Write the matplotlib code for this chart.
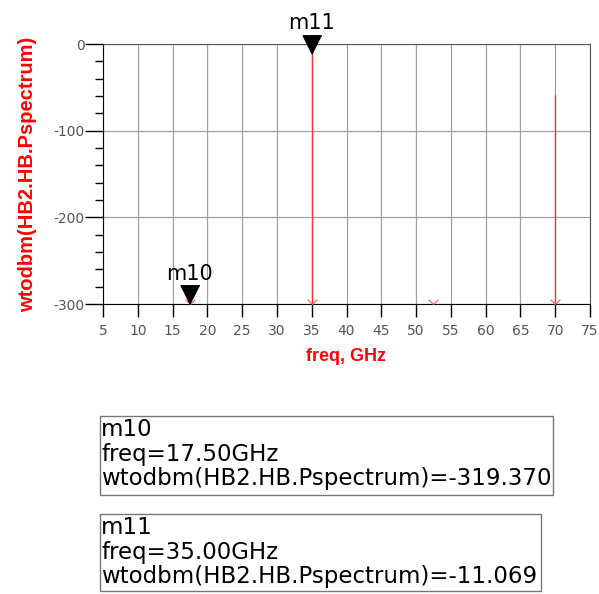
import matplotlib.pyplot as plt
import numpy as np
from matplotlib.patches import Rectangle

plt.rcParams['font.family'] = ['Liberation Sans', 'DejaVu Sans']
plt.rcParams['axes.unicode_minus'] = False

# harmonic spectrum, GHz / dBm
freq_ghz = [17.5, 35.0, 52.5, 70.0]
power_dbm = [-319.37, -11.069, -325.0, -59.0]

# markers
marker_names = ["m10", "m11"]
marker_freq = [17.5, 35.0]
marker_power = [-319.370, -11.069]

x_ticks = list(range(5, 80, 5))
y_ticks = [0, -100, -200, -300]
x_lim = (5, 75)
y_lim = (-300, 0)

fig = plt.figure(figsize=(5.99, 5.94), dpi=100)
W, H = 599, 594


def fig_box(left, top, right, bottom):
    # pixel box -> figure fraction [l, b, w, h]
    return [left / W, 1 - bottom / H, (right - left) / W, (bottom - top) / H]


ax = fig.add_axes(fig_box(103, 44, 590, 304))
ax.set_xlim(*x_lim)
ax.set_ylim(*y_lim)

ax.set_xticks(x_ticks)
ax.set_yticks(y_ticks)
ax.set_yticks(np.arange(-300, 1, 20), minor=True)
ax.tick_params(axis='x', which='major', direction='out', length=9.5, width=1,
               labelsize=10, labelcolor='#555555', color='black', pad=5)
ax.tick_params(axis='y', which='major', direction='out', length=13, width=1,
               labelsize=10, labelcolor='#555555', color='black', pad=0)
ax.tick_params(axis='y', which='minor', direction='out', length=6, width=1, color='black')
for lab in ax.get_xticklabels() + ax.get_yticklabels():
    lab.set_family('DejaVu Sans')
ax.grid(True, which='major', color='#a0a0a0', linewidth=0.9)
ax.set_axisbelow(True)
for side in ['left', 'bottom']:
    ax.spines[side].set_color('black')
for side in ['top', 'right']:
    ax.spines[side].set_color('#555555')

# spectral lines
ax.vlines(freq_ghz, y_lim[0], power_dbm, colors='#ff3333', linewidth=1.0, zorder=3)
chevron = [(-1, 1), (0, 0), (1, 1)]
ax.plot(freq_ghz, [y_lim[0]] * len(freq_ghz), ls='none', marker=chevron, markersize=7,
        markerfacecolor='none', markeredgecolor='#ff5555', markeredgewidth=0.8,
        clip_on=False, zorder=4)

# marker triangles (tip at data point, clamped to the plot range)
tri = [(0, 0), (-0.5, 1), (0.5, 1)]
for name, f, p in zip(marker_names, marker_freq, marker_power):
    py = max(p, y_lim[0])
    ax.plot([f], [py], marker=tri, markersize=27, color='black', clip_on=False, zorder=5)
    ax.annotate(name, (f, py), xytext=(0, 14.5), textcoords='offset points',
                ha='center', va='bottom', fontsize=15, family='DejaVu Sans',
                annotation_clip=False)

ax.set_xlabel("freq, GHz", color='red', fontweight='bold', fontsize=13, labelpad=7)
ax.set_ylabel("wtodbm(HB2.HB.Pspectrum)", color='red', fontweight='bold', fontsize=14.5,
              labelpad=12)

# marker readout boxes
boxes = [(100, 416, 553, 495), (100, 514, 541, 591)]
for (l, t, r, b), name, f, p in zip(boxes, marker_names, marker_freq, marker_power):
    fig.patches.append(Rectangle((l / W, 1 - b / H), (r - l) / W, (b - t) / H,
                                 transform=fig.transFigure, fill=False,
                                 edgecolor='#777777', linewidth=1))
    lines = [name, f"freq={f:.2f}GHz", f"wtodbm(HB2.HB.Pspectrum)={p:.3f}"]
    for i, s in enumerate(lines):
        fig.text((l + 1) / W, 1 - (t + 13 + 25 * i) / H, s, fontsize=16.5,
                 family='DejaVu Sans', ha='left', va='center', color='black')

fig.savefig("out.png", dpi=100)
